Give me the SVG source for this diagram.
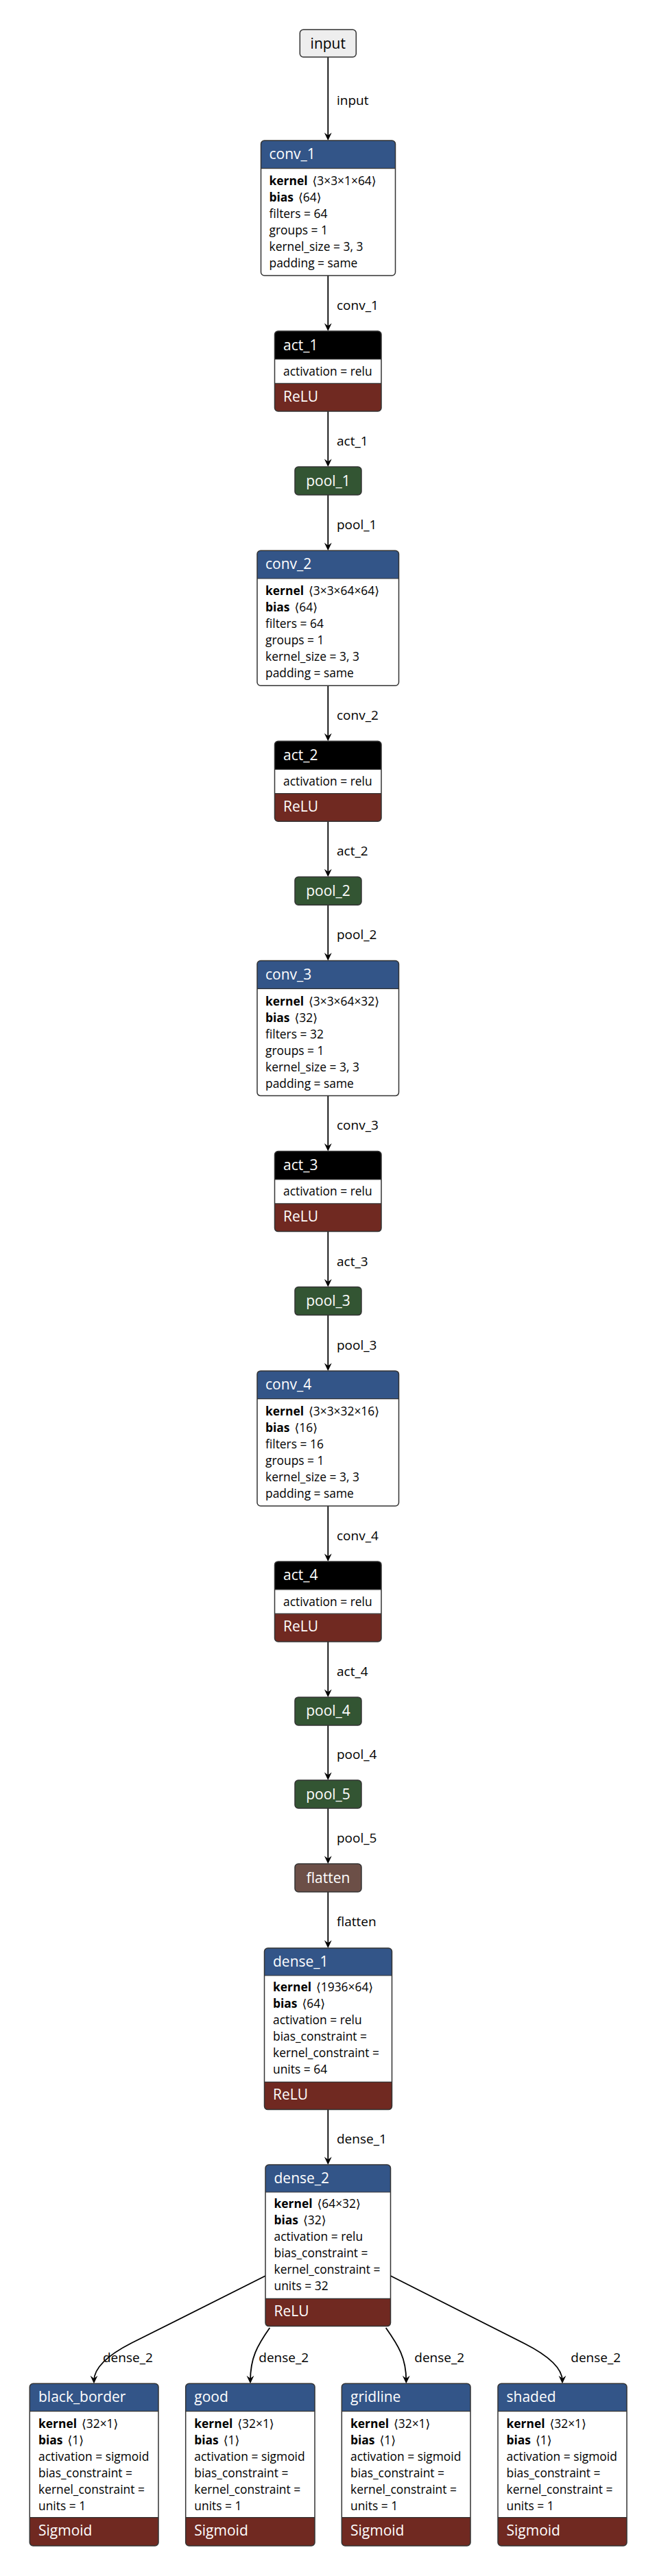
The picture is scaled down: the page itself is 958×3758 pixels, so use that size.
<svg xmlns="http://www.w3.org/2000/svg" width="958" height="3758" viewBox="0 0 958 3758">
<style>
text{font-family:"Open Sans","DejaVu Sans",sans-serif}
.t{font-size:21px;fill:#fff}
.ti{font-size:21px;fill:#000;text-anchor:middle}
.tc{font-size:21px;fill:#fff;text-anchor:middle}
.a{font-size:17.4px;fill:#000}
.b{font-weight:bold}
.e{font-size:19px;fill:#000}
.hl{fill:#335588}
.ha{fill:#000}
.hr{fill:#702921}
.bg{fill:#fff}
.box{fill:none;stroke:#333;stroke-width:1.5}
.sep{stroke:#333;stroke-width:1.2}
.edge{fill:none;stroke:#000;stroke-width:1.8;marker-end:url(#arrow)}
</style>
<defs>
<marker id="arrow" viewBox="-9 -6 14 12" refX="0" refY="0" markerWidth="14" markerHeight="12" markerUnits="userSpaceOnUse" orient="auto">
<path d="M4 0L-7.5 -5.4L-3.5 0L-7.5 5.4Z" fill="#000"/>
</marker>
</defs>
<rect width="958" height="3758" fill="#fff"/>

<g id="connectors">
<path class="edge" d="M478.3 83V201"/>
<text class="e" x="491" y="153">input</text>
<path class="edge" d="M478.3 402V479"/>
<text class="e" x="491" y="451.7">conv_1</text>
<path class="edge" d="M478.3 600V677"/>
<text class="e" x="491" y="650">act_1</text>
<path class="edge" d="M478.3 722V799.3"/>
<text class="e" x="491" y="772">pool_1</text>
<path class="edge" d="M478.3 1000.3V1077.3"/>
<text class="e" x="491" y="1050">conv_2</text>
<path class="edge" d="M478.3 1198.3V1275.3"/>
<text class="e" x="491" y="1248.3">act_2</text>
<path class="edge" d="M478.3 1320.3V1397.6"/>
<text class="e" x="491" y="1370.3">pool_2</text>
<path class="edge" d="M478.3 1598.6V1675.6"/>
<text class="e" x="491" y="1648.3">conv_3</text>
<path class="edge" d="M478.3 1796.6V1873.6"/>
<text class="e" x="491" y="1846.6">act_3</text>
<path class="edge" d="M478.3 1918.6V1995.9"/>
<text class="e" x="491" y="1968.6">pool_3</text>
<path class="edge" d="M478.3 2196.9V2273.9"/>
<text class="e" x="491" y="2246.6">conv_4</text>
<path class="edge" d="M478.3 2394.9V2471.9"/>
<text class="e" x="491" y="2444.9">act_4</text>
<path class="edge" d="M478.3 2516.9V2593"/>
<text class="e" x="491" y="2566">pool_4</text>
<path class="edge" d="M478.3 2638V2715"/>
<text class="e" x="491" y="2687.5">pool_5</text>
<path class="edge" d="M478.3 2760V2838"/>
<text class="e" x="491" y="2810">flatten</text>
<path class="edge" d="M478.3 3077.6V3154"/>
<text class="e" x="491" y="3127">dense_1</text>
<path class="edge" d="M387.3 3320L192 3418Q137 3446 137 3473.3"/>
<text class="e" x="150" y="3445.7">dense_2</text>
<path class="edge" d="M393.3 3396C375 3422 365 3440 365 3473.3"/>
<text class="e" x="377.3" y="3445.7">dense_2</text>
<path class="edge" d="M562.7 3396C581 3422 592.3 3440 592.3 3473.3"/>
<text class="e" x="604.3" y="3445.7">dense_2</text>
<path class="edge" d="M569.3 3320L765 3419Q820 3447 820 3473.3"/>
<text class="e" x="832.3" y="3445.7">dense_2</text>
</g>

<g id="input">
<rect x="437.3" y="43.3" width="82" height="40" rx="5" fill="#eee" stroke="#333" stroke-width="1.5"/>
<text class="ti" x="478.3" y="70.5">input</text>
</g>

<g id="conv_1">
<rect class="bg" x="380.5" y="205" width="196" height="197" rx="5"/>
<path class="hl" d="M380.5 245.7V210A5 5 0 0 1 385.5 205H571.5A5 5 0 0 1 576.5 210V245.7Z"/>
<line class="sep" x1="380.5" y1="245.7" x2="576.5" y2="245.7"/>
<rect class="box" x="380.5" y="205" width="196" height="197" rx="5"/>
<text class="t" x="392.5" y="232">conv_1</text>
<text class="a" x="392.5" y="270"><tspan class="b">kernel</tspan><tspan dx="7">⟨3×3×1×64⟩</tspan></text>
<text class="a" x="392.5" y="294"><tspan class="b">bias</tspan><tspan dx="7">⟨64⟩</tspan></text>
<text class="a" x="392.5" y="318">filters = 64</text>
<text class="a" x="392.5" y="342">groups = 1</text>
<text class="a" x="392.5" y="366">kernel_size = 3, 3</text>
<text class="a" x="392.5" y="390">padding = same</text>
</g>

<g id="act_1">
<rect class="bg" x="400.5" y="483" width="155.5" height="117" rx="5"/>
<path class="ha" d="M400.5 524V488A5 5 0 0 1 405.5 483H551A5 5 0 0 1 556 488V524Z"/>
<path class="hr" d="M400.5 559.3H556V595A5 5 0 0 1 551 600H405.5A5 5 0 0 1 400.5 595Z"/>
<line class="sep" x1="400.5" y1="524" x2="556" y2="524"/>
<line class="sep" x1="400.5" y1="559.3" x2="556" y2="559.3"/>
<rect class="box" x="400.5" y="483" width="155.5" height="117" rx="5"/>
<text class="t" x="413" y="510.5">act_1</text>
<text class="a" x="413" y="547.7">activation = relu</text>
<text class="t" x="413" y="585.5">ReLU</text>
</g>

<g id="pool_1">
<rect x="430" y="681" width="97" height="41" rx="5" fill="#335533" stroke="#333" stroke-width="1.5"/>
<text class="tc" x="478.5" y="708.5">pool_1</text>
</g>

<g id="conv_2">
<rect class="bg" x="375" y="803.3" width="206.5" height="197" rx="5"/>
<path class="hl" d="M375 844V808.3A5 5 0 0 1 380 803.3H576.5A5 5 0 0 1 581.5 808.3V844Z"/>
<line class="sep" x1="375" y1="844" x2="581.5" y2="844"/>
<rect class="box" x="375" y="803.3" width="206.5" height="197" rx="5"/>
<text class="t" x="387" y="830.3">conv_2</text>
<text class="a" x="387" y="868.3"><tspan class="b">kernel</tspan><tspan dx="7">⟨3×3×64×64⟩</tspan></text>
<text class="a" x="387" y="892.3"><tspan class="b">bias</tspan><tspan dx="7">⟨64⟩</tspan></text>
<text class="a" x="387" y="916.3">filters = 64</text>
<text class="a" x="387" y="940.3">groups = 1</text>
<text class="a" x="387" y="964.3">kernel_size = 3, 3</text>
<text class="a" x="387" y="988.3">padding = same</text>
</g>

<g id="act_2">
<rect class="bg" x="400.5" y="1081.3" width="155.5" height="117" rx="5"/>
<path class="ha" d="M400.5 1122.3V1086.3A5 5 0 0 1 405.5 1081.3H551A5 5 0 0 1 556 1086.3V1122.3Z"/>
<path class="hr" d="M400.5 1157.6H556V1193.3A5 5 0 0 1 551 1198.3H405.5A5 5 0 0 1 400.5 1193.3Z"/>
<line class="sep" x1="400.5" y1="1122.3" x2="556" y2="1122.3"/>
<line class="sep" x1="400.5" y1="1157.6" x2="556" y2="1157.6"/>
<rect class="box" x="400.5" y="1081.3" width="155.5" height="117" rx="5"/>
<text class="t" x="413" y="1108.8">act_2</text>
<text class="a" x="413" y="1146">activation = relu</text>
<text class="t" x="413" y="1183.8">ReLU</text>
</g>

<g id="pool_2">
<rect x="430" y="1279.3" width="97" height="41" rx="5" fill="#335533" stroke="#333" stroke-width="1.5"/>
<text class="tc" x="478.5" y="1306.8">pool_2</text>
</g>

<g id="conv_3">
<rect class="bg" x="375" y="1401.6" width="206.5" height="197" rx="5"/>
<path class="hl" d="M375 1442.3V1406.6A5 5 0 0 1 380 1401.6H576.5A5 5 0 0 1 581.5 1406.6V1442.3Z"/>
<line class="sep" x1="375" y1="1442.3" x2="581.5" y2="1442.3"/>
<rect class="box" x="375" y="1401.6" width="206.5" height="197" rx="5"/>
<text class="t" x="387" y="1428.6">conv_3</text>
<text class="a" x="387" y="1466.6"><tspan class="b">kernel</tspan><tspan dx="7">⟨3×3×64×32⟩</tspan></text>
<text class="a" x="387" y="1490.6"><tspan class="b">bias</tspan><tspan dx="7">⟨32⟩</tspan></text>
<text class="a" x="387" y="1514.6">filters = 32</text>
<text class="a" x="387" y="1538.6">groups = 1</text>
<text class="a" x="387" y="1562.6">kernel_size = 3, 3</text>
<text class="a" x="387" y="1586.6">padding = same</text>
</g>

<g id="act_3">
<rect class="bg" x="400.5" y="1679.6" width="155.5" height="117" rx="5"/>
<path class="ha" d="M400.5 1720.6V1684.6A5 5 0 0 1 405.5 1679.6H551A5 5 0 0 1 556 1684.6V1720.6Z"/>
<path class="hr" d="M400.5 1755.9H556V1791.6A5 5 0 0 1 551 1796.6H405.5A5 5 0 0 1 400.5 1791.6Z"/>
<line class="sep" x1="400.5" y1="1720.6" x2="556" y2="1720.6"/>
<line class="sep" x1="400.5" y1="1755.9" x2="556" y2="1755.9"/>
<rect class="box" x="400.5" y="1679.6" width="155.5" height="117" rx="5"/>
<text class="t" x="413" y="1707.1">act_3</text>
<text class="a" x="413" y="1744.3">activation = relu</text>
<text class="t" x="413" y="1782.1">ReLU</text>
</g>

<g id="pool_3">
<rect x="430" y="1877.6" width="97" height="41" rx="5" fill="#335533" stroke="#333" stroke-width="1.5"/>
<text class="tc" x="478.5" y="1905.1">pool_3</text>
</g>

<g id="conv_4">
<rect class="bg" x="375" y="1999.9" width="206.5" height="197" rx="5"/>
<path class="hl" d="M375 2040.6V2004.9A5 5 0 0 1 380 1999.9H576.5A5 5 0 0 1 581.5 2004.9V2040.6Z"/>
<line class="sep" x1="375" y1="2040.6" x2="581.5" y2="2040.6"/>
<rect class="box" x="375" y="1999.9" width="206.5" height="197" rx="5"/>
<text class="t" x="387" y="2026.9">conv_4</text>
<text class="a" x="387" y="2064.9"><tspan class="b">kernel</tspan><tspan dx="7">⟨3×3×32×16⟩</tspan></text>
<text class="a" x="387" y="2088.9"><tspan class="b">bias</tspan><tspan dx="7">⟨16⟩</tspan></text>
<text class="a" x="387" y="2112.9">filters = 16</text>
<text class="a" x="387" y="2136.9">groups = 1</text>
<text class="a" x="387" y="2160.9">kernel_size = 3, 3</text>
<text class="a" x="387" y="2184.9">padding = same</text>
</g>

<g id="act_4">
<rect class="bg" x="400.5" y="2277.9" width="155.5" height="117" rx="5"/>
<path class="ha" d="M400.5 2318.9V2282.9A5 5 0 0 1 405.5 2277.9H551A5 5 0 0 1 556 2282.9V2318.9Z"/>
<path class="hr" d="M400.5 2354.2H556V2389.9A5 5 0 0 1 551 2394.9H405.5A5 5 0 0 1 400.5 2389.9Z"/>
<line class="sep" x1="400.5" y1="2318.9" x2="556" y2="2318.9"/>
<line class="sep" x1="400.5" y1="2354.2" x2="556" y2="2354.2"/>
<rect class="box" x="400.5" y="2277.9" width="155.5" height="117" rx="5"/>
<text class="t" x="413" y="2305.4">act_4</text>
<text class="a" x="413" y="2342.6">activation = relu</text>
<text class="t" x="413" y="2380.4">ReLU</text>
</g>

<g id="pool_4">
<rect x="430" y="2475.9" width="97" height="41" rx="5" fill="#335533" stroke="#333" stroke-width="1.5"/>
<text class="tc" x="478.5" y="2503.4">pool_4</text>
</g>

<g id="pool_5">
<rect x="430" y="2597" width="97" height="41" rx="5" fill="#335533" stroke="#333" stroke-width="1.5"/>
<text class="tc" x="478.5" y="2624.5">pool_5</text>
</g>

<g id="flatten">
<rect x="430" y="2719" width="97" height="41" rx="5" fill="#6c4f47" stroke="#333" stroke-width="1.5"/>
<text class="tc" x="478.5" y="2746.5">flatten</text>
</g>

<g id="dense_1">
<rect class="bg" x="385.5" y="2842" width="186" height="235.6" rx="5"/>
<path class="hl" d="M385.5 2882V2847A5 5 0 0 1 390.5 2842H566.5A5 5 0 0 1 571.5 2847V2882Z"/>
<path class="hr" d="M385.5 3037.3H571.5V3072.6A5 5 0 0 1 566.5 3077.6H390.5A5 5 0 0 1 385.5 3072.6Z"/>
<line class="sep" x1="385.5" y1="2882" x2="571.5" y2="2882"/>
<line class="sep" x1="385.5" y1="3037.3" x2="571.5" y2="3037.3"/>
<rect class="box" x="385.5" y="2842" width="186" height="235.6" rx="5"/>
<text class="t" x="398" y="2868.5">dense_1</text>
<text class="a" x="398" y="2905.3"><tspan class="b">kernel</tspan><tspan dx="7">⟨1936×64⟩</tspan></text>
<text class="a" x="398" y="2929.3"><tspan class="b">bias</tspan><tspan dx="7">⟨64⟩</tspan></text>
<text class="a" x="398" y="2953.3">activation = relu</text>
<text class="a" x="398" y="2977.3">bias_constraint =</text>
<text class="a" x="398" y="3001.3">kernel_constraint =</text>
<text class="a" x="398" y="3025.3">units = 64</text>
<text class="t" x="398" y="3063">ReLU</text>
</g>

<g id="dense_2">
<rect class="bg" x="387" y="3158" width="182.5" height="235.6" rx="5"/>
<path class="hl" d="M387 3198V3163A5 5 0 0 1 392 3158H564.5A5 5 0 0 1 569.5 3163V3198Z"/>
<path class="hr" d="M387 3353.3H569.5V3388.6A5 5 0 0 1 564.5 3393.6H392A5 5 0 0 1 387 3388.6Z"/>
<line class="sep" x1="387" y1="3198" x2="569.5" y2="3198"/>
<line class="sep" x1="387" y1="3353.3" x2="569.5" y2="3353.3"/>
<rect class="box" x="387" y="3158" width="182.5" height="235.6" rx="5"/>
<text class="t" x="399.5" y="3184.5">dense_2</text>
<text class="a" x="399.5" y="3221.3"><tspan class="b">kernel</tspan><tspan dx="7">⟨64×32⟩</tspan></text>
<text class="a" x="399.5" y="3245.3"><tspan class="b">bias</tspan><tspan dx="7">⟨32⟩</tspan></text>
<text class="a" x="399.5" y="3269.3">activation = relu</text>
<text class="a" x="399.5" y="3293.3">bias_constraint =</text>
<text class="a" x="399.5" y="3317.3">kernel_constraint =</text>
<text class="a" x="399.5" y="3341.3">units = 32</text>
<text class="t" x="399.5" y="3379">ReLU</text>
</g>

<g id="black_border">
<rect class="bg" x="43.3" y="3477.3" width="187.7" height="236.7" rx="5"/>
<path class="hl" d="M43.3 3517.7V3482.3A5 5 0 0 1 48.3 3477.3H226A5 5 0 0 1 231 3482.3V3517.7Z"/>
<path class="hr" d="M43.3 3672.7H231V3709A5 5 0 0 1 226 3714H48.3A5 5 0 0 1 43.3 3709Z"/>
<line class="sep" x1="43.3" y1="3517.7" x2="231" y2="3517.7"/>
<line class="sep" x1="43.3" y1="3672.7" x2="231" y2="3672.7"/>
<rect class="box" x="43.3" y="3477.3" width="187.7" height="236.7" rx="5"/>
<text class="t" x="56" y="3503.5">black_border</text>
<text class="a" x="56" y="3541.7"><tspan class="b">kernel</tspan><tspan dx="7">⟨32×1⟩</tspan></text>
<text class="a" x="56" y="3565.7"><tspan class="b">bias</tspan><tspan dx="7">⟨1⟩</tspan></text>
<text class="a" x="56" y="3589.7">activation = sigmoid</text>
<text class="a" x="56" y="3613.7">bias_constraint =</text>
<text class="a" x="56" y="3637.7">kernel_constraint =</text>
<text class="a" x="56" y="3661.7">units = 1</text>
<text class="t" x="56" y="3698.5">Sigmoid</text>
</g>

<g id="good">
<rect class="bg" x="270.7" y="3477.3" width="188.3" height="236.7" rx="5"/>
<path class="hl" d="M270.7 3517.7V3482.3A5 5 0 0 1 275.7 3477.3H454A5 5 0 0 1 459 3482.3V3517.7Z"/>
<path class="hr" d="M270.7 3672.7H459V3709A5 5 0 0 1 454 3714H275.7A5 5 0 0 1 270.7 3709Z"/>
<line class="sep" x1="270.7" y1="3517.7" x2="459" y2="3517.7"/>
<line class="sep" x1="270.7" y1="3672.7" x2="459" y2="3672.7"/>
<rect class="box" x="270.7" y="3477.3" width="188.3" height="236.7" rx="5"/>
<text class="t" x="283.3" y="3503.5">good</text>
<text class="a" x="283.3" y="3541.7"><tspan class="b">kernel</tspan><tspan dx="7">⟨32×1⟩</tspan></text>
<text class="a" x="283.3" y="3565.7"><tspan class="b">bias</tspan><tspan dx="7">⟨1⟩</tspan></text>
<text class="a" x="283.3" y="3589.7">activation = sigmoid</text>
<text class="a" x="283.3" y="3613.7">bias_constraint =</text>
<text class="a" x="283.3" y="3637.7">kernel_constraint =</text>
<text class="a" x="283.3" y="3661.7">units = 1</text>
<text class="t" x="283.3" y="3698.5">Sigmoid</text>
</g>

<g id="gridline">
<rect class="bg" x="498.3" y="3477.3" width="187.7" height="236.7" rx="5"/>
<path class="hl" d="M498.3 3517.7V3482.3A5 5 0 0 1 503.3 3477.3H681A5 5 0 0 1 686 3482.3V3517.7Z"/>
<path class="hr" d="M498.3 3672.7H686V3709A5 5 0 0 1 681 3714H503.3A5 5 0 0 1 498.3 3709Z"/>
<line class="sep" x1="498.3" y1="3517.7" x2="686" y2="3517.7"/>
<line class="sep" x1="498.3" y1="3672.7" x2="686" y2="3672.7"/>
<rect class="box" x="498.3" y="3477.3" width="187.7" height="236.7" rx="5"/>
<text class="t" x="511" y="3503.5">gridline</text>
<text class="a" x="511" y="3541.7"><tspan class="b">kernel</tspan><tspan dx="7">⟨32×1⟩</tspan></text>
<text class="a" x="511" y="3565.7"><tspan class="b">bias</tspan><tspan dx="7">⟨1⟩</tspan></text>
<text class="a" x="511" y="3589.7">activation = sigmoid</text>
<text class="a" x="511" y="3613.7">bias_constraint =</text>
<text class="a" x="511" y="3637.7">kernel_constraint =</text>
<text class="a" x="511" y="3661.7">units = 1</text>
<text class="t" x="511" y="3698.5">Sigmoid</text>
</g>

<g id="shaded">
<rect class="bg" x="726" y="3477.3" width="188" height="236.7" rx="5"/>
<path class="hl" d="M726 3517.7V3482.3A5 5 0 0 1 731 3477.3H909A5 5 0 0 1 914 3482.3V3517.7Z"/>
<path class="hr" d="M726 3672.7H914V3709A5 5 0 0 1 909 3714H731A5 5 0 0 1 726 3709Z"/>
<line class="sep" x1="726" y1="3517.7" x2="914" y2="3517.7"/>
<line class="sep" x1="726" y1="3672.7" x2="914" y2="3672.7"/>
<rect class="box" x="726" y="3477.3" width="188" height="236.7" rx="5"/>
<text class="t" x="738.5" y="3503.5">shaded</text>
<text class="a" x="738.5" y="3541.7"><tspan class="b">kernel</tspan><tspan dx="7">⟨32×1⟩</tspan></text>
<text class="a" x="738.5" y="3565.7"><tspan class="b">bias</tspan><tspan dx="7">⟨1⟩</tspan></text>
<text class="a" x="738.5" y="3589.7">activation = sigmoid</text>
<text class="a" x="738.5" y="3613.7">bias_constraint =</text>
<text class="a" x="738.5" y="3637.7">kernel_constraint =</text>
<text class="a" x="738.5" y="3661.7">units = 1</text>
<text class="t" x="738.5" y="3698.5">Sigmoid</text>
</g>
</svg>
